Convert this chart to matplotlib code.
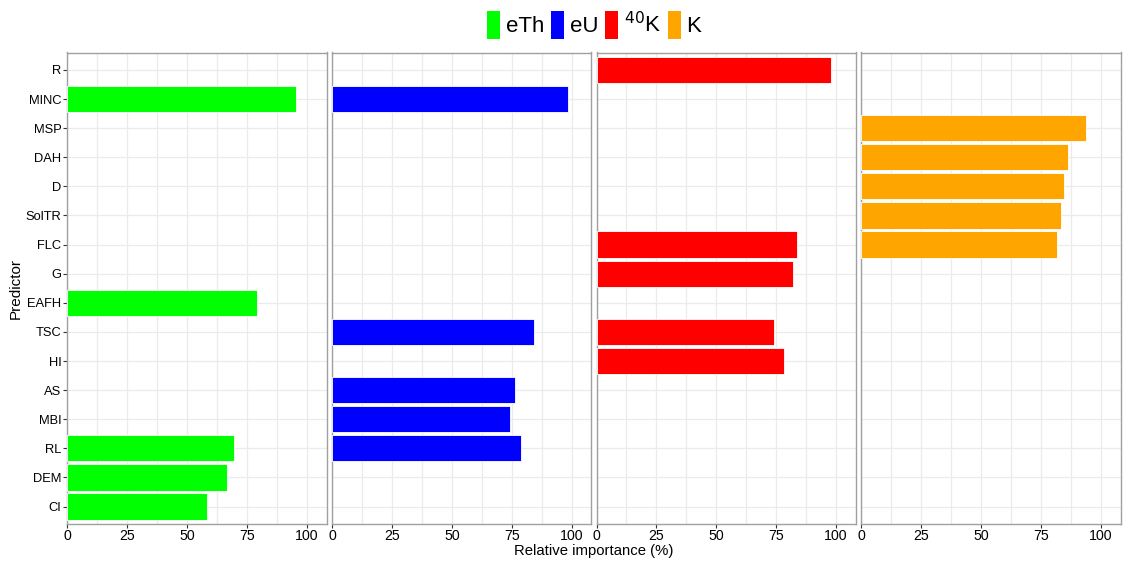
import numpy as np
import matplotlib
matplotlib.use("Agg")
import matplotlib.pyplot as plt
from matplotlib.patches import Patch

plt.rcParams['font.family'] = ['Liberation Sans', 'DejaVu Sans']

# predictors, top to bottom
predictors = ["R", "MINC", "MSP", "DAH", "D", "SolTR", "FLC", "G", "EAFH",
              "TSC", "HI", "AS", "MBI", "RL", "DEM", "CI"]
nan = np.nan
eth = [nan, 95.4, nan, nan, nan, nan, nan, nan, 79.4, nan, nan, nan, nan, 69.5, 66.9, 58.6]
eu = [nan, 98.6, nan, nan, nan, nan, nan, nan, nan, 84.3, nan, 76.5, 74.4, 79.0, nan, nan]
k40 = [97.8, nan, nan, nan, nan, nan, 83.8, 82.2, nan, 74.0, 78.4, nan, nan, nan, nan, nan]
kk = [nan, nan, 94.1, 86.2, 84.7, 83.5, 81.6, nan, nan, nan, nan, nan, nan, nan, nan, nan]

series = [eth, eu, k40, kk]
labels = ["eTh", "eU", r"$^{40}$K", "K"]
colors = ["#00FF00", "#0000FF", "#FF0000", "#FFA500"]

W, H = 1132, 568
fig = plt.figure(figsize=(W / 100, H / 100), dpi=100)

lefts = [67, 332, 596.5, 861]
pw = 259.5
top, bot = 52.5, 524
ypos = np.arange(len(predictors))[::-1]

for i, (vals, col) in enumerate(zip(series, colors)):
    ax = fig.add_axes([lefts[i] / W, 1 - bot / H, pw / W, (bot - top) / H])
    v = np.array(vals, dtype=float)
    m = ~np.isnan(v)
    ax.barh(ypos[m], v[m], height=0.9, color=col, edgecolor="white", linewidth=0.6, zorder=3)
    ax.set_xlim(0, 108.3)
    ax.set_ylim(-0.6, len(predictors) - 0.4)
    ax.set_xticks([0, 25, 50, 75, 100])
    ax.set_xticks([12.5, 37.5, 62.5, 87.5], minor=True)
    ax.set_yticks(ypos)
    ax.grid(True, which="both", color="#EBEBEB", linewidth=0.9, zorder=0)
    ax.tick_params(axis="x", which="major", length=3, color="#333333", labelsize=10.2,
                   pad=0.5, labelcolor="black")
    ax.tick_params(axis="x", which="minor", length=0)
    for s in ax.spines.values():
        s.set_color("#A0A0A0")
        s.set_linewidth(1.0)
    if i == 0:
        ax.set_yticklabels(predictors)
        ax.tick_params(axis="y", length=3, color="#333333", labelsize=9.3, pad=1)
        ax.set_ylabel("Predictor", fontsize=11)
        ax.yaxis.set_label_coords((23 - 67) / pw, 0.5)
    else:
        ax.tick_params(axis="y", length=0, labelleft=False)

fig.text(593.5 / W, 1 - 551 / H, "Relative importance (%)", ha="center", va="center", fontsize=10.7)

handles = [Patch(facecolor=c, edgecolor="none") for c in colors]
fig.legend(handles, labels, loc="center", bbox_to_anchor=(594 / W, 1 - 25 / H), ncol=4,
           frameon=False, fontsize=16, handlelength=0.6, handleheight=1.5,
           handletextpad=0.25, columnspacing=0.3, borderaxespad=0)

fig.savefig("out.png", dpi=100)
